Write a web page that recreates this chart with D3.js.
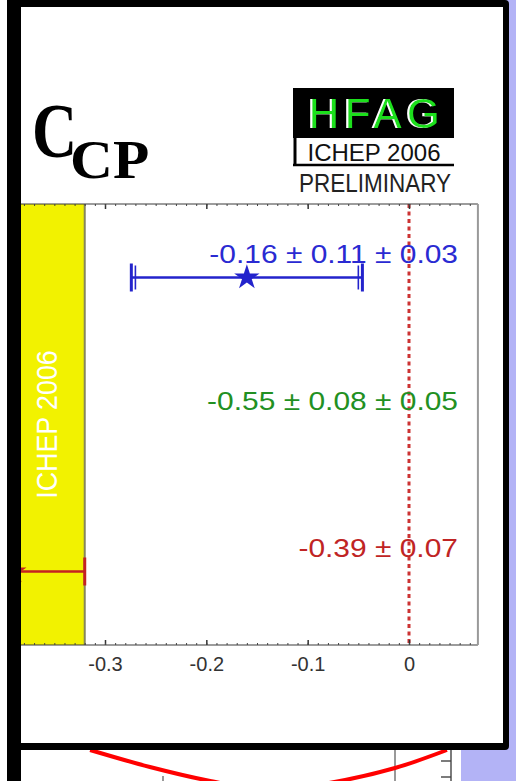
<!DOCTYPE html>
<html><head><meta charset="utf-8">
<script src="https://cdn.jsdelivr.net/npm/d3@7"></script>
<style>html,body{margin:0;padding:0;background:#fff;}svg{display:block}</style>
</head><body>
<svg id="chart" width="516" height="781"></svg>
<script>
// ---- data ----
const experiments = ["BaBar", "Belle", "Average"];
const centralValues = [-0.16, -0.55, -0.39];
const statErrors = [0.11, 0.08, 0.07];
const systErrors = [0.03, 0.05, null];
const valueLabels = ["-0.16 \u00b1 0.11 \u00b1 0.03", "-0.55 \u00b1 0.08 \u00b1 0.05", "-0.39 \u00b1 0.07"];
const tickValues = [-0.3, -0.2, -0.1, 0];
const minorTickValues = d3.range(-80, 7).map(i => i / 100);
const xDomainEdges = [-0.8, 0.068];
// fragment of the next panel (visible below the frame)
const fragCurveU = [0.157, 0.293, 0.43, 0.56, 0.70, 0.85, 0.968];
const fragCurveV = [0.0, 0.34, 0.62, 0.80, 0.66, 0.36, 0.0];

// ---- styles ----
const rowColors = ["#2323cc", "#1f8f1f", "#c42222"];
const textColors = ["#2a2ad2", "#229022", "#c02424"];
const sans = "Liberation Sans, Arial, Helvetica, sans-serif";
const serif = "Liberation Serif, Times New Roman, serif";

const svg = d3.select("#chart");
const W = 516, H = 781;

const defs = svg.append("defs");
const f = defs.append("filter").attr("id", "hfagShadow").attr("x", "-10%").attr("y", "-10%").attr("width", "120%").attr("height", "120%");
f.append("feFlood").attr("flood-color", "#ffffff").attr("result", "w");
f.append("feComposite").attr("in", "w").attr("in2", "SourceAlpha").attr("operator", "in").attr("result", "wa");
f.append("feOffset").attr("in", "wa").attr("dx", -2).attr("dy", 0).attr("result", "wo");
const fm = f.append("feMerge");
fm.append("feMergeNode").attr("in", "wo");
fm.append("feMergeNode").attr("in", "SourceGraphic");

// background pieces
svg.append("rect").attr("x", 0).attr("y", 0).attr("width", W).attr("height", H).attr("fill", "#ffffff");
svg.append("rect").attr("x", 505).attr("y", 0).attr("width", 11).attr("height", H).attr("fill", "#b3b3f6");
svg.append("rect").attr("x", 461).attr("y", 748).attr("width", 55).attr("height", 33).attr("fill", "#b3b3f6");

// ---- lower fragment panel ----
const fu = d3.scaleLinear().domain([0, 1]).range([21, 461]);
const fv = d3.scaleLinear().domain([0, 1]).range([750, 800]);
const frag = svg.append("g");
frag.append("line").attr("x1", 395).attr("x2", 395).attr("y1", 748).attr("y2", 781).attr("stroke", "#555").attr("stroke-width", 1.2);
frag.append("line").attr("x1", 451).attr("x2", 451).attr("y1", 748).attr("y2", 781).attr("stroke", "#444").attr("stroke-width", 1.4);
[761, 777].forEach(yy => frag.append("line").attr("x1", 441).attr("x2", 451).attr("y1", yy).attr("y2", yy).attr("stroke", "#444").attr("stroke-width", 1.4));
frag.append("line").attr("x1", 163).attr("x2", 163).attr("y1", 776).attr("y2", 781).attr("stroke", "#555").attr("stroke-width", 1.2);
frag.append("path")
  .datum(fragCurveU.map((u, i) => [u, fragCurveV[i]]))
  .attr("d", d3.line().x(d => fu(d[0])).y(d => fv(d[1])).curve(d3.curveCatmullRom))
  .attr("fill", "none").attr("stroke", "#ff0000").attr("stroke-width", 4);

// ---- main panel ----
const plotTop = 204, plotBottom = 645;
const x = d3.scaleLinear().domain([-0.3, 0]).range([105, 409]);
const y = d3.scaleBand().domain(experiments).range([plotTop, plotBottom]);
const rowY = e => y(e) + y.bandwidth() / 2;
const xL = x(xDomainEdges[0]), xR = x(xDomainEdges[1]);

const g = svg.append("g");
g.append("rect").attr("x", 21).attr("y", 7).attr("width", 482).attr("height", 736).attr("fill", "#fff");

// average band
const avgIdx = 2;
const bandLo = centralValues[avgIdx] - statErrors[avgIdx];
const bandHi = centralValues[avgIdx] + statErrors[avgIdx];
g.append("rect").attr("x", x(bandLo)).attr("y", plotTop)
  .attr("width", x(bandHi) - x(bandLo)).attr("height", plotBottom - plotTop)
  .attr("fill", "#f2f200");
[bandLo, bandHi].forEach(v => g.append("line").attr("x1", x(v)).attr("x2", x(v))
  .attr("y1", plotTop).attr("y2", plotBottom).attr("stroke", "#86865a").attr("stroke-width", 2));
g.append("text")
  .attr("transform", `translate(${x(bandHi) - 38},${(plotTop + plotBottom) / 2}) rotate(-90) scale(1.03,1.13)`)
  .attr("text-anchor", "middle").attr("dy", "0.36em")
  .attr("font-family", sans).attr("font-size", 26)
  .attr("fill", "#ffffff").text("ICHEP 2006");

// zero line
g.append("line").attr("x1", x(0)).attr("x2", x(0)).attr("y1", plotTop).attr("y2", plotBottom)
  .attr("stroke", "#cc3333").attr("stroke-width", 3).attr("stroke-dasharray", "4,3.5");

// frame
g.append("line").attr("x1", xL).attr("x2", xR).attr("y1", plotTop).attr("y2", plotTop).attr("stroke", "#3a3a3a").attr("stroke-width", 1.2);
g.append("line").attr("x1", xL).attr("x2", xR).attr("y1", plotBottom).attr("y2", plotBottom).attr("stroke", "#3a3a3a").attr("stroke-width", 1.2);
g.append("line").attr("x1", xR).attr("x2", xR).attr("y1", plotTop).attr("y2", plotBottom).attr("stroke", "#999").attr("stroke-width", 2);

// axes
const bottomAxis = g.append("g").attr("transform", `translate(0,${plotBottom})`)
  .call(d3.axisBottom(x).tickValues(tickValues).tickSize(-5).tickPadding(12)
    .tickFormat(d => d === 0 ? "0" : d.toFixed(1)));
bottomAxis.select(".domain").remove();
bottomAxis.selectAll("line").attr("stroke", "#333").attr("stroke-width", 1.5);
bottomAxis.selectAll("text").attr("font-family", sans).attr("font-size", 20).attr("fill", "#333");
const bottomMinor = g.append("g").attr("transform", `translate(0,${plotBottom})`)
  .call(d3.axisBottom(x).tickValues(minorTickValues).tickSize(-2).tickFormat(""));
bottomMinor.select(".domain").remove();
bottomMinor.selectAll("line").attr("stroke", "#444").attr("stroke-width", 1);

const topAxis = g.append("g").attr("transform", `translate(0,${plotTop})`)
  .call(d3.axisTop(x).tickValues(tickValues).tickSize(-5).tickFormat(""));
topAxis.select(".domain").remove();
topAxis.selectAll("line").attr("stroke", "#333").attr("stroke-width", 1.5);
const topMinor = g.append("g").attr("transform", `translate(0,${plotTop})`)
  .call(d3.axisTop(x).tickValues(minorTickValues).tickSize(-2).tickFormat(""));
topMinor.select(".domain").remove();
topMinor.selectAll("line").attr("stroke", "#444").attr("stroke-width", 1);

// measurements
experiments.forEach((e, i) => {
  const cy = rowY(e);
  const c = centralValues[i];
  const st = statErrors[i];
  const sy = systErrors[i];
  const tot = sy == null ? st : Math.sqrt(st * st + sy * sy);
  const col = rowColors[i];
  g.append("line").attr("x1", x(c - tot)).attr("x2", x(c + tot)).attr("y1", cy).attr("y2", cy)
    .attr("stroke", col).attr("stroke-width", 2.6);
  const caps = sy == null ? [c - st, c + st] : [c - tot, c + tot, c - st, c + st];
  caps.forEach((v, k) => g.append("line").attr("x1", x(v)).attr("x2", x(v))
    .attr("y1", cy - (k < 2 ? 14 : 12)).attr("y2", cy + (k < 2 ? 14 : 12))
    .attr("stroke", col).attr("stroke-width", k < 2 ? 3 : 1.6));
  g.append("path").attr("d", d3.symbol().type(d3.symbolStar).size(200)())
    .attr("transform", `translate(${x(c)},${cy})`).attr("fill", col);
  g.append("text").attr("transform", `translate(458,${cy - 15}) scale(1.13,1)`)
    .attr("text-anchor", "end")
    .attr("font-family", sans).attr("font-size", 26.5).attr("fill", textColors[i])
    .text(valueLabels[i]);
});

// ---- title C_CP ----
svg.append("text").attr("transform", "translate(32,157) scale(0.8,1)")
  .attr("font-family", serif).attr("font-weight", "bold").attr("font-size", 78).attr("fill", "#000").text("C");
svg.append("text").attr("transform", "translate(70,178) scale(1.1,1)")
  .attr("font-family", serif).attr("font-weight", "bold").attr("font-size", 54).attr("fill", "#000").text("CP");

// ---- HFAG logo ----
const logo = svg.append("g");
logo.append("rect").attr("x", 293).attr("y", 88).attr("width", 161).attr("height", 50).attr("fill", "#000");
logo.append("text").attr("x", 377).attr("y", 128).attr("text-anchor", "middle")
  .attr("font-family", sans).attr("font-size", 42).attr("letter-spacing", 5.5)
  .attr("fill", "#1ee01e").attr("filter", "url(#hfagShadow)").text("HFAG");
logo.append("line").attr("x1", 295).attr("x2", 295).attr("y1", 138).attr("y2", 166).attr("stroke", "#000").attr("stroke-width", 3);
logo.append("line").attr("x1", 293).attr("x2", 454).attr("y1", 165).attr("y2", 165).attr("stroke", "#000").attr("stroke-width", 2.5);
logo.append("text").attr("x", 374).attr("y", 161).attr("text-anchor", "middle")
  .attr("font-family", sans).attr("font-size", 24).attr("fill", "#111").text("ICHEP 2006");
logo.append("text").attr("transform", "translate(375,192) scale(1,1.12)").attr("text-anchor", "middle")
  .attr("font-family", sans).attr("font-size", 22.5).attr("fill", "#222").text("PRELIMINARY");

// ---- black frame and outer margin ----
svg.append("rect").attr("x", 0).attr("y", 0).attr("width", 7).attr("height", H).attr("fill", "#ffffff");
svg.append("path")
  .attr("d", "M7,0 H505 Q509,0 509,4 V746 Q509,750 505,750 H21 V743 H503 V7 H21 V781 H7 Z")
  .attr("fill", "#000");
</script>
</body></html>
